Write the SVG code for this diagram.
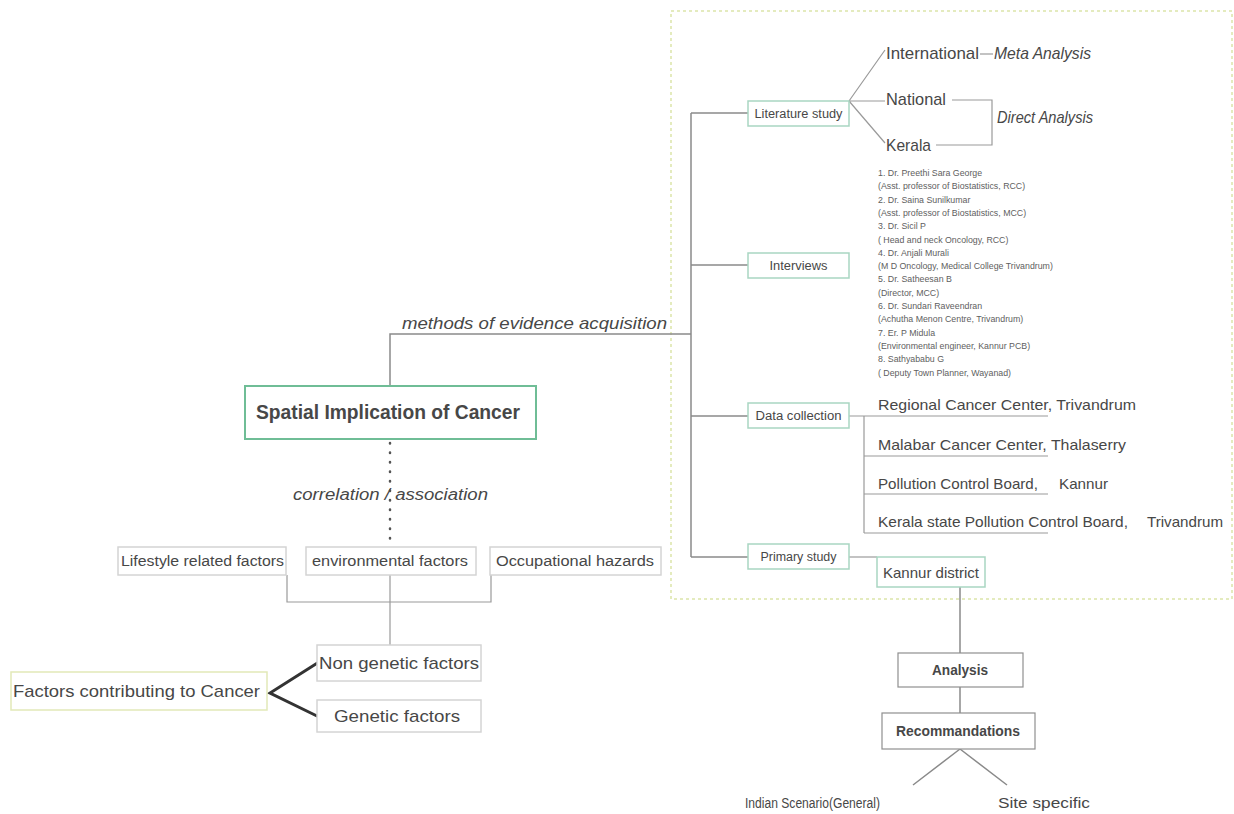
<svg xmlns="http://www.w3.org/2000/svg" width="1234" height="814" viewBox="0 0 1234 814">
<style>
text{font-family:"Liberation Sans",Arial,sans-serif;fill:#474747}
.ln{stroke:#8a8a8a;stroke-width:1.5;fill:none}
.lt{stroke:#9a9a9a;stroke-width:1.2;fill:none}
.teal{fill:#fff;stroke:#a9d6c2;stroke-width:1.5}
.gray{fill:#fff;stroke:#d4d4d4;stroke-width:1.5}
.dark{fill:#fff;stroke:#8f8f8f;stroke-width:1.2}
.s12{font-size:12px}
.s14{font-size:14px}
.s15{font-size:15px}
.s17{font-size:17px}
.it{font-style:italic}
.mid{text-anchor:middle}
.iv{font-size:8.8px;fill:#606060}
</style>
<rect width="1234" height="814" fill="#fff"/>
<g id="evidence-frame">
<rect x="671" y="11" width="561" height="588" fill="none" stroke="#dbe5a9" stroke-width="1.5" stroke-dasharray="3 3"/>
</g>
<g id="connectors">
<path class="ln" d="M390 386 V334 H691"/>
<path class="ln" d="M691 113 V557"/>
<path class="ln" d="M691 113 H748 M691 265 H748 M691 416 H748 M691 557 H748"/>
<path class="lt" d="M849 101 L885 50 M849 101 H885 M849 101 L885 143"/>
<path class="lt" d="M980 54 H993"/>
<path class="lt" d="M952 100 H992 V145 H936"/>
<path class="lt" d="M849 416 H1048 M864 416 V533 M864 456 H1048 M864 494 H1048 M864 533 H1048"/>
<path class="lt" d="M849 557 H877"/>
<path class="ln" d="M960 587 V653 M960 687 V713"/>
<path class="ln" d="M960 749 L913 785 M960 749 L1007 785"/>
<path d="M390 443 V545" stroke="#555" stroke-width="2.5" stroke-linecap="round" stroke-dasharray="0.5 9" fill="none"/>
<path class="lt" d="M287 575 V602 H491 V575 M390 575 V645"/>
<path d="M319 662 L270 693 L319 717" stroke="#333" stroke-width="3" fill="none"/>
</g>
<g id="main">
<rect x="245" y="386" width="291" height="53" fill="#fff" stroke="#6fbd96" stroke-width="2"/>
<text x="256" y="419" font-size="20" font-weight="bold" textLength="264" lengthAdjust="spacingAndGlyphs" fill="#333">Spatial Implication of Cancer</text>
</g>
<g id="label-methods">
<text x="402" y="329" class="s17 it" textLength="265" lengthAdjust="spacingAndGlyphs" fill="#555">methods of evidence acquisition</text>
</g>
<g id="label-correlation">
<text x="293" y="500" font-size="16" class="it" textLength="195" lengthAdjust="spacingAndGlyphs" fill="#666">correlation / association</text>
</g>
<g id="literature">
<rect x="748" y="101" width="101" height="25" class="teal"/>
<text x="798.5" y="118" class="s12 mid" textLength="88" lengthAdjust="spacingAndGlyphs">Literature study</text>
</g>
<g id="international"><text x="886" y="59" class="s17" textLength="93" lengthAdjust="spacingAndGlyphs">International</text></g>
<g id="meta"><text x="994" y="59" class="s17 it" textLength="97" lengthAdjust="spacingAndGlyphs">Meta Analysis</text></g>
<g id="national"><text x="886" y="105" class="s17" textLength="60" lengthAdjust="spacingAndGlyphs">National</text></g>
<g id="direct"><text x="997" y="123" class="s17 it" textLength="96" lengthAdjust="spacingAndGlyphs">Direct Analysis</text></g>
<g id="kerala"><text x="886" y="151" class="s17" textLength="45" lengthAdjust="spacingAndGlyphs">Kerala</text></g>
<g id="interviews">
<rect x="748" y="253" width="101" height="25" class="teal"/>
<text x="798.5" y="270" class="s12 mid" textLength="58" lengthAdjust="spacingAndGlyphs">Interviews</text>
</g>
<g id="interview-list">
<text x="878" y="176" class="iv">1. Dr. Preethi Sara George</text>
<text x="878" y="189.3" class="iv">(Asst. professor of Biostatistics, RCC)</text>
<text x="878" y="202.6" class="iv">2. Dr. Saina Sunilkumar</text>
<text x="878" y="215.9" class="iv">(Asst. professor of Biostatistics, MCC)</text>
<text x="878" y="229.2" class="iv">3. Dr. Sicil P</text>
<text x="878" y="242.5" class="iv">( Head and neck Oncology, RCC)</text>
<text x="878" y="255.8" class="iv">4. Dr. Anjali Murali</text>
<text x="878" y="269.1" class="iv">(M D Oncology, Medical College Trivandrum)</text>
<text x="878" y="282.4" class="iv">5. Dr. Satheesan B</text>
<text x="878" y="295.7" class="iv">(Director, MCC)</text>
<text x="878" y="309" class="iv">6. Dr. Sundari Raveendran</text>
<text x="878" y="322.3" class="iv">(Achutha Menon Centre, Trivandrum)</text>
<text x="878" y="335.6" class="iv">7. Er. P Midula</text>
<text x="878" y="348.9" class="iv">(Environmental engineer, Kannur PCB)</text>
<text x="878" y="362.2" class="iv">8. Sathyababu G</text>
<text x="878" y="375.5" class="iv">( Deputy Town Planner, Wayanad)</text>
</g>
<g id="data-collection">
<rect x="748" y="403" width="101" height="25" class="teal"/>
<text x="798.5" y="420" class="s12 mid" textLength="86" lengthAdjust="spacingAndGlyphs">Data collection</text>
</g>
<g id="rcc"><text x="878" y="410" class="s15" textLength="258" lengthAdjust="spacingAndGlyphs">Regional Cancer Center, Trivandrum</text></g>
<g id="mcc"><text x="878" y="450" class="s15" textLength="248" lengthAdjust="spacingAndGlyphs">Malabar Cancer Center, Thalaserry</text></g>
<g id="pcb">
<text x="878" y="489" class="s15" textLength="160" lengthAdjust="spacingAndGlyphs">Pollution Control Board,</text>
<text x="1059" y="489" class="s15" textLength="49" lengthAdjust="spacingAndGlyphs">Kannur</text>
</g>
<g id="kspcb">
<text x="878" y="527" class="s15" textLength="250" lengthAdjust="spacingAndGlyphs">Kerala state Pollution Control Board,</text>
<text x="1147" y="527" class="s15" textLength="76" lengthAdjust="spacingAndGlyphs">Trivandrum</text>
</g>
<g id="primary">
<rect x="748" y="544" width="101" height="25" class="teal"/>
<text x="798.5" y="561" class="s12 mid" textLength="76" lengthAdjust="spacingAndGlyphs">Primary study</text>
</g>
<g id="kannur-district">
<rect x="877" y="557" width="108" height="30" class="teal"/>
<text x="931" y="578" class="s15 mid" textLength="96" lengthAdjust="spacingAndGlyphs">Kannur district</text>
</g>
<g id="analysis">
<rect x="898" y="653" width="125" height="34" class="dark"/>
<text x="960" y="675" class="s14 mid" font-weight="bold" textLength="56" lengthAdjust="spacingAndGlyphs">Analysis</text>
</g>
<g id="recommandations">
<rect x="882" y="713" width="153" height="36" class="dark"/>
<text x="958" y="736" class="s14 mid" font-weight="bold" textLength="124" lengthAdjust="spacingAndGlyphs">Recommandations</text>
</g>
<g id="indian"><text x="745" y="808" font-size="15.5" textLength="135" lengthAdjust="spacingAndGlyphs">Indian Scenario(General)</text></g>
<g id="site"><text x="998" y="808" class="s15" textLength="92" lengthAdjust="spacingAndGlyphs">Site specific</text></g>
<g id="lifestyle">
<rect x="118" y="547" width="168" height="28" class="gray"/>
<text x="121" y="566" class="s14" textLength="163" lengthAdjust="spacingAndGlyphs">Lifestyle related factors</text>
</g>
<g id="environmental">
<rect x="306" y="547" width="170" height="28" class="gray"/>
<text x="312" y="566" class="s14" textLength="156" lengthAdjust="spacingAndGlyphs">environmental factors</text>
</g>
<g id="occupational">
<rect x="490" y="547" width="171" height="28" class="gray"/>
<text x="496" y="566" class="s14" textLength="158" lengthAdjust="spacingAndGlyphs">Occupational hazards</text>
</g>
<g id="non-genetic">
<rect x="317" y="645" width="164" height="36" class="gray"/>
<text x="319" y="669" class="s17" textLength="160" lengthAdjust="spacingAndGlyphs">Non genetic factors</text>
</g>
<g id="genetic">
<rect x="317" y="700" width="164" height="32" class="gray"/>
<text x="334" y="722" class="s17" textLength="126" lengthAdjust="spacingAndGlyphs">Genetic factors</text>
</g>
<g id="factors">
<rect x="11" y="672" width="256" height="38" fill="#fff" stroke="#e2e9b8" stroke-width="1.5"/>
<text x="13" y="697" class="s17" textLength="247" lengthAdjust="spacingAndGlyphs">Factors contributing to Cancer</text>
</g>
</svg>
